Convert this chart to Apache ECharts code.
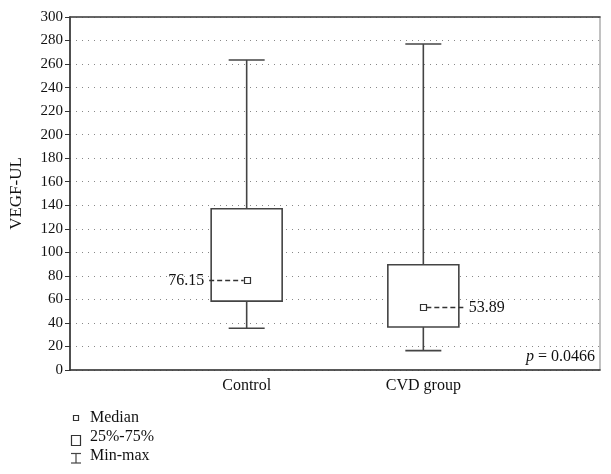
<!DOCTYPE html>
<html>
<head>
<meta charset="utf-8">
<script src="https://cdn.jsdelivr.net/npm/echarts@6/dist/echarts.min.js"></script>
<style>html,body{margin:0;padding:0;background:#fff}#c{width:611px;height:474px}</style>
</head>
<body>
<div id="c"></div>
<script>
var categories = ['', 'Control', 'CVD group', ''];
var minVals = [35.5, 16.5];
var q1Vals = [58.5, 36.5];
var medianVals = [76.15, 53.89];
var q3Vals = [137, 89.5];
var maxVals = [263.5, 277];
var medianLabels = ['76.15', '53.89'];
var yTicks = [0, 300, 20];
var pText = '0.0466';

var FONT = 'Liberation Serif';
var data = [];
for (var i = 0; i < 2; i++) {
  data.push([i + 1, minVals[i], q1Vals[i], medianVals[i], q3Vals[i], maxVals[i], i]);
}

function renderItem(params, api) {
  var x = api.value(0);
  var idx = api.value(6);
  var pMin = api.coord([x, api.value(1)]);
  var pQ1 = api.coord([x, api.value(2)]);
  var pMed = api.coord([x, api.value(3)]);
  var pQ3 = api.coord([x, api.value(4)]);
  var pMax = api.coord([x, api.value(5)]);
  var cx = pMin[0];
  var bw = 71, cw = 36, ms = 6;
  var line = {stroke: '#444', lineWidth: 1.6};
  var children = [
    {type: 'line', shape: {x1: cx, y1: pMax[1], x2: cx, y2: pQ3[1]}, style: line},
    {type: 'line', shape: {x1: cx, y1: pQ1[1], x2: cx, y2: pMin[1]}, style: line},
    {type: 'line', shape: {x1: cx - cw / 2, y1: pMax[1], x2: cx + cw / 2, y2: pMax[1]}, style: line},
    {type: 'line', shape: {x1: cx - cw / 2, y1: pMin[1], x2: cx + cw / 2, y2: pMin[1]}, style: line},
    {type: 'rect', shape: {x: cx - bw / 2, y: pQ3[1], width: bw, height: pQ1[1] - pQ3[1]}, style: {fill: '#fff', stroke: '#444', lineWidth: 1.6}}
  ];
  var my = Math.round(pMed[1]) + 0.5;
  if (idx === 0) {
    children.push({type: 'line', shape: {x1: cx - bw / 2 - 2, y1: my, x2: cx - ms / 2, y2: my}, style: {stroke: '#333', lineWidth: 1.3, lineDash: [5, 3]}});
    children.push({type: 'text', style: {text: medianLabels[idx], x: cx - bw / 2 - 7, y: my, align: 'right', verticalAlign: 'middle', font: '16px "' + FONT + '"', fill: '#111'}});
  } else {
    children.push({type: 'line', shape: {x1: cx + ms / 2, y1: my, x2: cx + bw / 2 + 5, y2: my}, style: {stroke: '#333', lineWidth: 1.3, lineDash: [5, 3]}});
    children.push({type: 'text', style: {text: medianLabels[idx], x: cx + bw / 2 + 10, y: my, align: 'left', verticalAlign: 'middle', font: '16px "' + FONT + '"', fill: '#111'}});
  }
  children.push({type: 'rect', shape: {x: Math.round(cx - ms / 2) + 0.5, y: my - ms / 2, width: ms, height: ms}, style: {fill: '#fff', stroke: '#333', lineWidth: 1.2}});
  return {type: 'group', children: children};
}

var chart = echarts.init(document.getElementById('c'), null, {renderer: 'canvas'});
chart.setOption({
  animation: false,
  backgroundColor: '#fff',
  grid: {left: 70, right: 11, top: 17, bottom: 104, show: true, borderColor: '#999', borderWidth: 1.2, backgroundColor: 'transparent'},
  xAxis: [{
    type: 'category', data: categories, boundaryGap: false,
    axisLine: {show: true, lineStyle: {color: '#333', width: 1.6}},
    axisTick: {show: false},
    axisLabel: {fontFamily: FONT, fontSize: 16, color: '#111', margin: 8, interval: 0},
    splitLine: {show: false}
  }, {
    type: 'category', data: categories, boundaryGap: false, position: 'top',
    axisLine: {show: true, lineStyle: {color: '#444', width: 1.6}},
    axisTick: {show: false}, axisLabel: {show: false}, splitLine: {show: false}
  }],
  yAxis: {
    type: 'value', min: yTicks[0], max: yTicks[1], interval: yTicks[2],
    name: 'VEGF-UL', nameLocation: 'middle', nameGap: 45, nameRotate: 90,
    nameTextStyle: {fontFamily: FONT, fontSize: 17, color: '#111'},
    axisLine: {show: true, lineStyle: {color: '#333', width: 1.6}},
    axisTick: {show: true, length: 5, lineStyle: {color: '#333', width: 1}},
    axisLabel: {fontFamily: FONT, fontSize: 15, color: '#111', margin: 7},
    splitLine: {show: true, lineStyle: {color: '#888', width: 1, type: [1, 5]}}
  },
  series: [{
    type: 'custom', renderItem: renderItem, data: data,
    encode: {x: 0, y: [1, 2, 3, 4, 5]}, xAxisIndex: 0, z: 5
  }],
  graphic: [
    {type: 'text', right: 16, top: 349, style: {rich: {i: {fontFamily: FONT, fontSize: 16, fontStyle: 'italic', fill: '#111'}, n: {fontFamily: FONT, fontSize: 16, fill: '#111'}}, text: '{i|p}{n| = ' + pText + '}'}},
    {type: 'rect', shape: {x: 73.5, y: 415.5, width: 5, height: 5}, style: {fill: '#fff', stroke: '#333', lineWidth: 1.2}},
    {type: 'text', left: 90, top: 410, style: {text: 'Median', font: '16px "' + FONT + '"', fill: '#111'}},
    {type: 'rect', shape: {x: 71.5, y: 435.5, width: 9, height: 10}, style: {fill: '#fff', stroke: '#333', lineWidth: 1.2}},
    {type: 'text', left: 90, top: 429, style: {text: '25%-75%', font: '16px "' + FONT + '"', fill: '#111'}},
    {type: 'line', shape: {x1: 71, y1: 453.5, x2: 81, y2: 453.5}, style: {stroke: '#444', lineWidth: 1.2}},
    {type: 'line', shape: {x1: 76, y1: 453.5, x2: 76, y2: 463}, style: {stroke: '#444', lineWidth: 1.2}},
    {type: 'line', shape: {x1: 71, y1: 463, x2: 81, y2: 463}, style: {stroke: '#444', lineWidth: 1.2}},
    {type: 'text', left: 90, top: 448, style: {text: 'Min-max', font: '16px "' + FONT + '"', fill: '#111'}}
  ]
});
</script>
</body>
</html>
